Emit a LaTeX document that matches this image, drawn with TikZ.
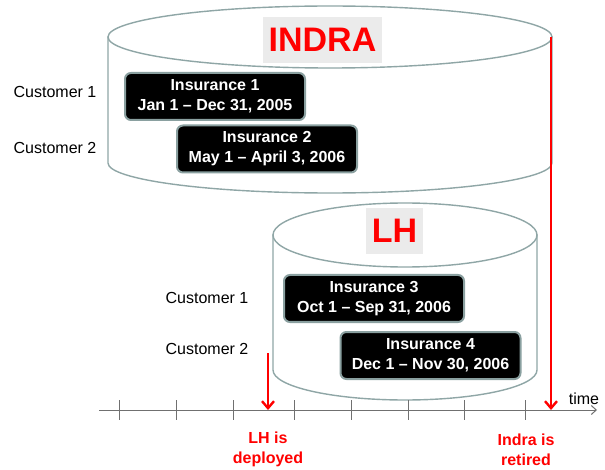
\documentclass[tikz,border=0pt]{standalone}
\usepackage{fontspec}
\setmainfont{Liberation Sans}
\usetikzlibrary{arrows.meta}
\definecolor{cyl}{HTML}{8FA6A6}
\definecolor{boxline}{HTML}{8AA0A0}
\definecolor{lblbg}{HTML}{EBEBEB}
\definecolor{axis}{HTML}{707070}
\begin{document}
\begin{tikzpicture}[x=1pt,y=-1pt,
  cylline/.style={draw=cyl,line width=1.4pt,fill=white},
  insbox/.style={draw=boxline,line width=2pt,fill=black,rounded corners=6pt,
    text=white,font=\fontsize{16}{20}\selectfont\bfseries,align=center,
    minimum width=180pt,minimum height=47pt,inner sep=0pt},
  dbname/.style={fill=lblbg,text=red,font=\fontsize{34}{34}\selectfont\bfseries,
    minimum height=46pt,inner sep=0pt},
  custlbl/.style={font=\fontsize{16}{20}\selectfont,inner sep=0pt},
  redlbl/.style={text=red,font=\fontsize{16}{20}\selectfont\bfseries,align=center,inner sep=0pt},
  redarrow/.style={draw=red,line width=2.4pt,-{Straight Barb[length=7pt,width=12pt,line width=2.4pt]}},
  tickline/.style={draw=axis,line width=1pt}]
\useasboundingbox (0,0) rectangle (605,470);
% INDRA cylinder
\path[cylline] (108,37) -- (108,163) arc[start angle=180,end angle=0,x radius=222,y radius=30] -- (552,37) -- cycle;
\draw[cylline] (330,37) ellipse [x radius=222,y radius=31];
% LH cylinder
\path[cylline] (273,235) -- (273,370) arc[start angle=180,end angle=0,x radius=132,y radius=30] -- (537,235) -- cycle;
\draw[cylline] (405,235) ellipse [x radius=132,y radius=32];
% database names
\node[dbname,minimum width=119pt] (indra) at (322.5,40) {INDRA};
\node[dbname,minimum width=57pt] (lh) at (394.5,231) {LH};
% insurance boxes
\node[insbox] (ins1) at (215,96.5) {Insurance 1\\Jan 1 -- Dec 31, 2005};
\node[insbox] (ins2) at (267,149) {Insurance 2\\May 1 -- April 3, 2006};
\node[insbox] (ins3) at (374,298.5) {Insurance 3\\Oct 1 -- Sep 31, 2006};
\node[insbox] (ins4) at (430.5,355.5) {Insurance 4\\Dec 1 -- Nov 30, 2006};
% customer labels
\node[custlbl] (c1a) at (55,92) {Customer 1};
\node[custlbl] (c2a) at (55,148) {Customer 2};
\node[custlbl] (c1b) at (207,298) {Customer 1};
\node[custlbl] (c2b) at (207,349) {Customer 2};
% timeline
\coordinate (t0) at (99,410);
\coordinate (t1) at (597,410);
\draw[draw=axis,line width=1pt,-{Straight Barb[length=5pt,width=9pt,line width=1pt]}] (t0) -- (t1);
\foreach \x in {119,176,233,294,351,408,464,525}{
  \draw[tickline] (\x,400) -- (\x,420);
}
\node[custlbl,anchor=south] (time) at (584,405) {time};
% red arrows
\coordinate (lhs) at (268,353);
\coordinate (lhe) at (268,410);
\coordinate (ins) at (551,37);
\coordinate (ine) at (551,410);
\draw[redarrow] (lhs) -- (lhe);
\draw[redarrow] (ins) -- (ine);
\node[redlbl] (lhdep) at (268,449) {LH is\\deployed};
\node[redlbl] (inret) at (526,450) {Indra is\\retired};
\end{tikzpicture}
\end{document}
